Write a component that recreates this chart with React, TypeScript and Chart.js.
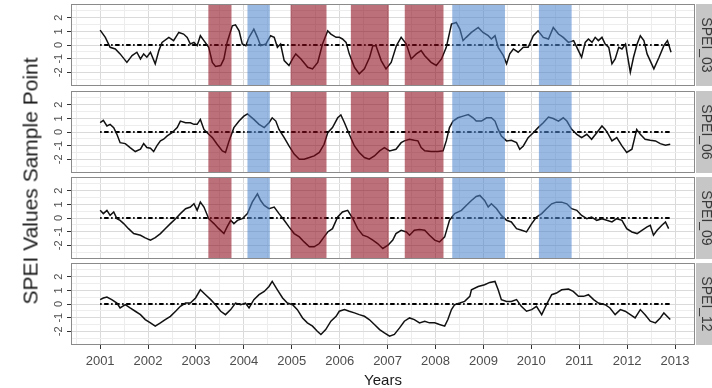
import React, { useEffect, useRef } from "react";
import { Chart, registerables } from "chart.js";

Chart.register(...registerables);

// ---- data (x = months since Jan 2001, y = SPEI value) ----
const xTickYears = [2001, 2002, 2003, 2004, 2005, 2006, 2007, 2008, 2009, 2010, 2011, 2012, 2013];
const xMinorYears = [2000.5, 2001.5, 2002.5, 2003.5, 2004.5, 2005.5, 2006.5, 2007.5, 2008.5, 2009.5, 2010.5, 2011.5, 2012.5];
const yMajorTicks = [-2, -1, 0, 1, 2];
const yMinorTicks = [-2.5, -1.5, -0.5, 0.5, 1.5, 2.5];
const panelNames = ["SPEI_03", "SPEI_06", "SPEI_09", "SPEI_12"];
const xTitle = "Years";
const yTitle = "SPEI Values Sample Point";

const spei03: [number, number][] = [
  [0, 1.09], [1.3, 0.56], [2.5, -0.17], [3.8, -0.29], [5, -0.65], [6.7, -1.27], [8, -0.78], [9.2, -0.53], [10.1, -1.02], [10.9, -0.65],
  [11.7, -0.89], [12.6, -0.53], [13.8, -1.38], [14.7, -0.41], [15.5, 0.19], [17.2, 0.56], [18.4, 0.32], [19.7, 0.92], [20.9, 0.8], [21.8, 0.56],
  [22.6, 0.07], [23.5, 0.19], [24.3, -0.05], [25.1, 0.68], [26, 0.32], [27.2, -0.17], [28.1, -1.27], [28.9, -1.57], [30.2, -1.5], [31, -1.02],
  [31.8, 0.19], [33.1, 1.41], [33.9, 1.48], [34.8, 1.04], [35.6, 0.07], [36.5, -0.05], [37.3, 0.56], [38.5, 1.16], [39.4, 0.56], [40.2, -0.05],
  [41.5, 0.07], [42.7, 0.68], [43.6, 0.56], [44.4, -0.17], [45.2, 0.07], [46.1, -1.14], [47.3, -1.5], [48.2, -1.02], [49, -0.65], [50.3, -1.02],
  [52, -1.63], [53.2, -1.75], [54.5, -1.27], [55.7, 0.07], [57, 1.04], [57.8, 0.8], [59.1, 0.56], [59.9, 0.56], [60.7, 0.44], [61.6, 0.19],
  [62.4, -0.65], [63.7, -1.63], [64.9, -2.11], [66.2, -1.75], [67.5, -0.9], [68.3, -0.05], [69.1, -0.05], [70.4, -1.14], [71.6, -1.75], [72.9, -1.27],
  [74.2, -0.05], [75.4, 0.56], [76.7, 0.07], [77.9, -1.02], [79.2, -0.65], [80.4, -0.41], [81.3, -0.78], [82.9, -1.27], [84.2, -1.5], [85.5, -1.02],
  [86.7, -0.17], [88, 1.53], [89.2, 1.65], [90.1, 1.16], [90.9, 0.32], [91.7, 0.56], [93, 0.92], [94.7, 1.28], [95.9, 0.92], [97.2, 0.68],
  [98, 0.44], [98.9, 0.68], [99.7, -0.17], [101, -0.78], [101.8, -1.38], [102.6, -0.65], [103.5, -0.29], [104.7, -0.53], [106, -0.17], [107.2, -0.17],
  [108.5, 0.68], [109.7, 1.04], [111, 0.56], [112.3, 0.44], [113.5, 1.28], [114.8, 0.8], [116, 0.56], [117.3, 0.19], [118.6, 0.32], [119.8, -0.41],
  [120.6, -0.9], [121.5, 0.19], [122.3, 0.44], [123.2, 0.19], [124, 0.56], [124.8, 0.32], [125.7, 0.56], [126.5, 0.07], [127.4, -0.17], [128.2, -1.38],
  [129, -1.02], [129.9, -0.17], [130.7, -0.29], [131.6, 0.07], [132.8, -2.0], [133.6, -0.9], [134.5, 0.07], [135.3, 0.68], [136.2, 0.32], [137, -0.65],
  [138.7, -1.75], [140, -0.9], [141.2, -0.05], [142.1, 0.32], [143, -0.53],
];

const spei06: [number, number][] = [
  [0, 0.68], [0.8, 0.85], [1.7, 0.44], [2.5, 0.56], [3.4, 0.32], [4.2, -0.17], [5, -0.78], [6.3, -0.85], [7.5, -1.14], [8.8, -1.43],
  [10.1, -1.26], [10.9, -0.85], [11.7, -1.14], [12.6, -1.19], [13.4, -1.43], [14.2, -1.02], [15.1, -0.65], [15.9, -0.53], [16.8, -0.29], [18, -0.05],
  [19.3, 0.32], [20.1, 0.8], [21.4, 0.68], [22.6, 0.68], [23.5, 0.56], [24.3, 0.56], [25.1, 0.92], [26, 0.19], [27.2, -0.17], [28.1, -0.41],
  [29.3, -0.9], [30.6, -1.38], [31.4, -1.5], [32.3, -0.65], [33.5, 0.32], [34.8, 0.8], [36, 1.16], [36.9, 1.33], [38.5, 0.92], [39.8, 0.56],
  [41.1, 0.32], [42.3, 0.68], [43.1, 1.04], [44, 0.8], [44.8, 0.19], [46.1, -0.41], [47.3, -1.02], [48.6, -1.62], [49.9, -1.99], [51.1, -1.99],
  [52.4, -1.87], [53.6, -1.75], [54.9, -1.5], [56.1, -0.9], [57, -0.05], [58.2, 0.32], [59.5, 1.04], [60.3, 1.24], [61.2, 0.68], [62.4, -0.17],
  [63.7, -1.02], [64.9, -1.5], [66.2, -1.87], [67.4, -1.99], [68.7, -1.75], [70, -1.38], [71.2, -1.14], [72.5, -1.38], [74.1, -1.26], [75.4, -0.78],
  [76.2, -0.65], [77.5, -0.53], [78.7, -0.61], [79.6, -0.65], [80.4, -1.14], [81.3, -1.38], [82.9, -1.43], [84.6, -1.43], [85.9, -1.38], [86.7, -0.65],
  [87.5, 0.32], [88.4, 0.8], [89.6, 1.04], [90.9, 1.16], [92.2, 1.28], [93.4, 1.04], [94.2, 0.8], [95.5, 0.8], [96.8, 1.04], [98, 1.04],
  [98.9, 0.8], [99.7, 0.19], [100.5, -0.29], [101.8, -0.65], [103, -0.61], [104.3, -0.78], [105.1, -1.26], [106, -1.02], [107.2, -0.41], [108.5, -0.05],
  [109.7, 0.32], [111, 0.68], [112.3, 1.09], [113.5, 0.99], [114.8, 0.8], [116, 1.04], [116.9, 0.8], [118.1, 0.19], [119.4, -0.17], [120.6, -0.41],
  [121.9, -0.17], [123.1, -0.53], [124.4, -0.05], [125.7, 0.44], [126.5, 0.19], [127.3, -0.17], [128.2, -0.65], [129.4, -0.41], [130.7, -1.02], [131.9, -1.5],
  [133.2, -1.26], [134.4, 0.19], [135.3, -0.17], [136.5, -0.53], [137.8, -0.61], [139.1, -0.65], [140.3, -0.85], [141.6, -0.97], [142.8, -0.9],
];

const spei09: [number, number][] = [
  [0, 0.56], [0.8, 0.32], [1.7, 0.56], [2.5, 0.19], [3.4, 0.44], [4.2, -0.05], [5, -0.17], [5.9, -0.41], [7.1, -0.78], [8.4, -1.14],
  [10.1, -1.26], [11.3, -1.45], [12.6, -1.62], [13.8, -1.43], [15.1, -1.14], [16.3, -0.78], [17.6, -0.41], [18.9, -0.05], [20.1, 0.32], [21.4, 0.68],
  [22.6, 0.8], [23.5, 1.04], [24.3, 0.56], [25.1, 1.16], [26, 0.8], [27.2, -0.05], [28.5, -0.41], [29.7, -0.78], [31, -1.14], [31.8, -0.65],
  [32.7, -0.17], [33.5, -0.41], [34.4, -0.17], [35.6, -0.05], [36.9, 0.32], [38.1, 1.16], [39.4, 1.77], [40.2, 1.28], [41.1, 0.92], [42.3, 0.68],
  [43.6, 0.8], [44.8, 0.32], [46.1, -0.17], [47.3, -0.65], [48.6, -1.14], [49.9, -1.38], [51.1, -1.75], [52.4, -2.11], [53.6, -2.11], [54.9, -1.87],
  [56.1, -1.38], [57, -1.02], [58.2, -0.78], [59.5, 0.07], [60.7, 0.44], [62, 0.56], [63.3, -0.05], [64.5, -0.78], [65.8, -1.26], [67, -1.38],
  [68.3, -1.62], [69.5, -1.87], [70.8, -2.23], [72.1, -1.99], [73.3, -1.62], [74.1, -1.14], [75.4, -0.9], [76.7, -1.02], [77.5, -1.26], [78.7, -0.9],
  [80, -0.85], [81.3, -0.9], [82.5, -1.26], [83.8, -1.62], [85, -1.75], [86.3, -1.38], [87.5, -0.17], [88.8, 0.32], [90.5, 0.56], [91.7, 0.92],
  [93, 1.28], [94.2, 1.58], [95.1, 1.65], [96.3, 1.28], [97.2, 0.8], [98, 1.04], [99.3, 0.68], [100.5, 0.19], [101.8, -0.17], [103, -0.29],
  [104.3, -0.78], [105.6, -0.9], [106.8, -1.02], [108.1, -0.41], [109.3, 0.07], [110.6, 0.32], [111.8, 0.68], [113.1, 1.04], [114.3, 1.16], [115.6, 1.16],
  [116.9, 1.04], [118.1, 0.68], [119.4, 0.56], [120.6, 0.19], [121.9, -0.05], [123.1, 0.07], [124.4, -0.17], [125.7, -0.05], [126.9, -0.17], [128.2, -0.29],
  [129.4, -0.05], [130.7, -0.17], [131.9, -0.78], [133.2, -1.02], [134.5, -1.14], [135.7, -0.9], [137, -0.65], [137.8, -0.53], [138.6, -1.26], [139.5, -0.9],
  [140.7, -0.53], [141.6, -0.29], [142.4, -0.78],
];

const spei12: [number, number][] = [
  [0, 0.32], [0.8, 0.44], [1.7, 0.51], [2.9, 0.32], [4.2, 0.07], [5, -0.29], [6.3, -0.05], [7.5, -0.29], [8.8, -0.53], [10.1, -0.78],
  [11.3, -1.14], [12.6, -1.38], [13.8, -1.62], [15.1, -1.38], [16.3, -1.14], [17.6, -0.9], [18.9, -0.53], [20.1, -0.17], [21.4, 0.07], [22.6, 0.07],
  [23.9, 0.44], [25.1, 1.04], [26.4, 0.68], [27.7, 0.32], [28.9, -0.05], [30.2, -0.53], [31.4, -0.78], [32.7, -0.41], [33.9, 0.07], [35.2, -0.05],
  [36.4, 0.07], [37.3, -0.29], [38.5, 0.32], [39.8, 0.68], [41.1, 0.92], [42.3, 1.28], [43.1, 1.65], [44.4, 1.04], [45.7, 0.44], [46.9, 0.07],
  [48.2, -0.05], [49.4, -0.41], [50.7, -1.02], [51.9, -1.38], [53.2, -1.62], [54.4, -1.99], [55.3, -2.23], [56.5, -1.87], [57.8, -1.26], [59.1, -0.9],
  [59.9, -0.53], [61.2, -0.41], [62.4, -0.53], [63.7, -0.65], [64.9, -0.78], [66.2, -0.9], [67.4, -1.14], [68.7, -1.5], [70, -1.87], [71.2, -2.11],
  [72.5, -2.35], [73.7, -2.23], [75, -1.75], [76.2, -1.26], [77.5, -1.02], [78.7, -1.14], [80, -1.38], [81.3, -1.26], [82.5, -1.38], [83.8, -1.38],
  [85, -1.5], [86.3, -1.62], [87.1, -1.14], [88, -0.41], [88.8, -0.05], [90.1, 0.07], [91.3, 0.19], [92.6, 0.56], [93, 1.04], [94.7, 1.28],
  [96.3, 1.41], [97.6, 1.58], [98.9, 1.65], [99.7, 1.04], [100.5, 0.32], [101.8, 0.19], [103, 0.19], [104.3, 0.32], [105.5, -0.17], [106.8, -0.53],
  [108.1, -0.41], [109.3, -0.17], [110.6, -0.78], [111.8, -0.05], [113.1, 0.68], [114.3, 0.8], [115.6, 1.04], [117.3, 1.09], [118.5, 0.92], [119.8, 0.56],
  [121.1, 0.56], [122.3, 0.68], [123.6, 0.32], [124.8, 0.07], [126.5, -0.05], [127.7, -0.29], [129, -0.78], [130.3, -0.41], [131.5, -0.53], [132.8, -0.78],
  [134, -1.02], [135.3, -0.41], [136.5, -0.78], [137.8, -1.26], [139.1, -1.38], [140.3, -1.02], [141.2, -0.65], [142, -0.9], [142.8, -1.14],
];

const seriesList = [spei03, spei06, spei09, spei12];
const zeroLine: [number, number][] = [[0, 0], [143, 0]];

// shaded periods (months since Jan 2001)
const dryPeriods: [number, number][] = [[27.1, 32.9], [47.7, 56.7], [62.8, 72.3], [76.3, 86.0]];
const wetPeriods: [number, number][] = [[36.9, 42.5], [88.2, 101.4], [109.9, 118.1]];

// ---- layout / style ----
const FONT = "'Liberation Sans', Arial, sans-serif";
const PANEL_TOPS = [4, 91, 177, 263];
const PANEL_H = 82;
const PLOT_LEFT = 71;
const PLOT_RIGHT = 695;
const W = 712;
const H = 388;
const PAD_TOP = 4;
const X_MIN = -7.3;
const X_MAX = 149;
const MAJOR_GRID = "#dadada";
const MINOR_GRID = "#ededed";
const DRY_FILL = "rgba(140, 10, 25, 0.58)";
const WET_FILL = "rgba(80, 135, 205, 0.58)";

const toMonth = (yr: number) => (yr - 2001) * 12;
const xMajorVals = xTickYears.map(toMonth);
const xMinorVals = xMinorYears.map(toMonth);
const isXMajor = (v: number) => xMajorVals.some((m) => Math.abs(m - v) < 1e-6);
const isYMajor = (v: number) => yMajorTicks.some((m) => Math.abs(m - v) < 1e-6);

function makeConfig(idx: number): any {
  const isBottom = idx === 3;
  const series = seriesList[idx];
  const decoPlugin = {
    id: "deco" + idx,
    afterDatasetsDraw(chart: any) {
      if (idx > 2) return;
      const { ctx, chartArea } = chart;
      const xs = chart.scales.x;
      ctx.save();
      ctx.beginPath();
      ctx.rect(chartArea.left, chartArea.top, chartArea.right - chartArea.left, chartArea.bottom - chartArea.top);
      ctx.clip();
      const drawBand = (p: [number, number], fill: string) => {
        const a = xs.getPixelForValue(p[0]);
        const b = xs.getPixelForValue(p[1]);
        ctx.fillStyle = fill;
        ctx.fillRect(a, chartArea.top, b - a, chartArea.bottom - chartArea.top);
      };
      dryPeriods.forEach((p) => drawBand(p, DRY_FILL));
      wetPeriods.forEach((p) => drawBand(p, WET_FILL));
      ctx.restore();
    },
    afterDraw(chart: any) {
      const { ctx, chartArea } = chart;
      const ys = chart.scales.y;
      ctx.save();
      // panel border
      ctx.strokeStyle = "#8a8a8a";
      ctx.lineWidth = 1;
      ctx.strokeRect(chartArea.left + 0.5, chartArea.top + 0.5, chartArea.right - chartArea.left - 1, chartArea.bottom - chartArea.top - 1);
      // strip
      ctx.fillStyle = "#c6c6c6";
      ctx.fillRect(chartArea.right + 1, chartArea.top, W - chartArea.right, chartArea.bottom - chartArea.top);
      const cy = (chartArea.top + chartArea.bottom) / 2;
      ctx.save();
      ctx.translate(chartArea.right + 7, cy);
      ctx.rotate(Math.PI / 2);
      ctx.fillStyle = "#3a3a3a";
      ctx.font = `14px ${FONT}`;
      ctx.textAlign = "center";
      ctx.textBaseline = "alphabetic";
      ctx.fillText(panelNames[idx], 0, 0);
      ctx.restore();
      // y tick labels (rotated)
      ctx.fillStyle = "#4d4d4d";
      ctx.font = `11px ${FONT}`;
      ctx.textAlign = "center";
      ctx.textBaseline = "alphabetic";
      yMajorTicks.forEach((v) => {
        const y = ys.getPixelForValue(v);
        ctx.save();
        ctx.translate(chartArea.left - 9, y);
        ctx.rotate(-Math.PI / 2);
        ctx.fillText(String(v), 0, 0);
        ctx.restore();
      });
      ctx.restore();
    },
  };

  return {
    type: "line",
    data: {
      datasets: [
        {
          data: series.map(([x, y]) => ({ x, y })),
          borderColor: "#111111",
          borderWidth: 1.5,
          pointRadius: 0,
          tension: 0,
          fill: false,
        },
        {
          data: zeroLine.map(([x, y]) => ({ x, y })),
          borderColor: "#000000",
          borderWidth: 1.8,
          borderDash: [1.5, 2.5, 4.5, 2.5],
          pointRadius: 0,
          fill: false,
        },
      ],
    },
    options: {
      animation: false,
      responsive: false,
      maintainAspectRatio: false,
      devicePixelRatio: 1,
      layout: { padding: { top: PAD_TOP, bottom: isBottom ? 0 : 4, left: 0, right: W - PLOT_RIGHT } },
      plugins: { legend: { display: false }, tooltip: { enabled: false } },
      scales: {
        x: {
          type: "linear",
          min: X_MIN,
          max: X_MAX,
          afterBuildTicks: (s: any) => {
            s.ticks = [...xMinorVals, ...xMajorVals].sort((a, b) => a - b).map((v) => ({ value: v }));
          },
          afterFit: (s: any) => {
            s.height = isBottom ? 388 - (PANEL_TOPS[3] - PAD_TOP) - PAD_TOP - PANEL_H : 0;
          },
          border: { display: false },
          grid: {
            color: (c: any) => (c.tick && isXMajor(c.tick.value) ? MAJOR_GRID : MINOR_GRID),
            lineWidth: 1,
            drawTicks: isBottom,
            tickLength: 4,
            tickColor: (c: any) => (c.tick && isXMajor(c.tick.value) ? "#333333" : "rgba(0,0,0,0)"),
          },
          ticks: {
            display: isBottom,
            autoSkip: false,
            maxRotation: 0,
            minRotation: 0,
            padding: 5,
            color: "#4d4d4d",
            font: { family: FONT, size: 13 },
            callback: (v: any) => (isXMajor(v) ? String(Math.round(2001 + v / 12)) : ""),
          },
          title: {
            display: isBottom,
            text: xTitle,
            color: "#1a1a1a",
            font: { family: FONT, size: 15, lineHeight: 1 },
            padding: { top: 0, bottom: 0 },
          },
        },
        y: {
          type: "linear",
          min: -3,
          max: 3,
          afterBuildTicks: (s: any) => {
            s.ticks = [...yMinorTicks, ...yMajorTicks].sort((a, b) => a - b).map((v) => ({ value: v }));
          },
          afterFit: (s: any) => {
            s.width = PLOT_LEFT;
          },
          border: { display: false },
          grid: {
            color: (c: any) => (c.tick && isYMajor(c.tick.value) ? MAJOR_GRID : MINOR_GRID),
            lineWidth: 1,
            drawTicks: true,
            tickLength: 4,
            tickColor: (c: any) => (c.tick && isYMajor(c.tick.value) ? "#333333" : "rgba(0,0,0,0)"),
          },
          ticks: { display: false },
        },
      },
    },
    plugins: [decoPlugin],
  };
}

export default function App() {
  const refs = [useRef<HTMLCanvasElement>(null), useRef<HTMLCanvasElement>(null), useRef<HTMLCanvasElement>(null), useRef<HTMLCanvasElement>(null)];

  useEffect(() => {
    const charts: Chart[] = [];
    refs.forEach((r, i) => {
      if (r.current) charts.push(new Chart(r.current, makeConfig(i)));
    });
    return () => charts.forEach((c) => c.destroy());
  }, []);

  const canvasHeights = PANEL_TOPS.map((t, i) => (i === 3 ? H - (t - PAD_TOP) : PANEL_H + PAD_TOP + 4));

  return (
    <div style={{ position: "absolute", left: 0, top: 0, width: W, height: H, background: "#ffffff", overflow: "hidden" }}>
      {PANEL_TOPS.map((t, i) => (
        <canvas
          key={i}
          ref={refs[i]}
          width={W}
          height={canvasHeights[i]}
          style={{ position: "absolute", left: 0, top: t - PAD_TOP, width: W, height: canvasHeights[i], display: "block" }}
        />
      ))}
      <div
        style={{
          position: "absolute",
          left: 30,
          top: 181,
          transform: "translate(-50%, -50%) rotate(-90deg)",
          whiteSpace: "nowrap",
          fontFamily: FONT,
          fontSize: 21,
          color: "#1a1a1a",
          lineHeight: 1,
        }}
      >
        {yTitle}
      </div>
    </div>
  );
}
